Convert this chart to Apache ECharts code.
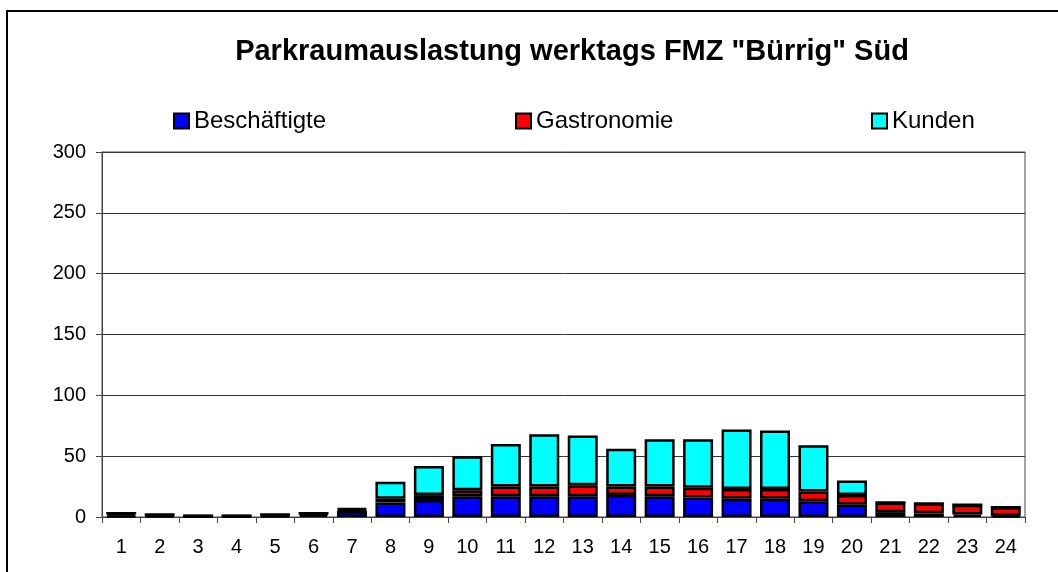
<!DOCTYPE html>
<html>
<head>
<meta charset="utf-8">
<script src="https://cdn.jsdelivr.net/npm/echarts@6/dist/echarts.min.js"></script>
<style>
  html, body { margin: 0; padding: 0; background: #fff; overflow: hidden; }
  #frame {
    position: absolute; left: 6px; top: 10px;
    width: 1200px; height: 800px;
    border: 2px solid #000;
  }
  #chart { position: absolute; left: 0; top: 0; width: 1058px; height: 572px; }
</style>
</head>
<body>
<div id="frame"></div>
<div id="chart"></div>
<script>
var hours = ['1', '2', '3', '4', '5', '6', '7', '8', '9', '10', '11', '12',
  '13', '14', '15', '16', '17', '18', '19', '20', '21', '22', '23', '24']
var beschaeftigte = [1, 1, 0.5, 0.5, 1, 2, 5, 12, 14, 17, 17, 17, 17, 18, 17, 16, 15, 15, 13, 10, 4, 3, 2, 1]
var gastronomie = [2, 1, 0.5, 0.5, 1, 1, 1, 3, 4, 5, 8, 8, 9, 7, 8, 8, 8, 8, 8, 8, 8, 8, 8, 7]
var kunden = [0, 0, 0, 0, 0, 0, 1, 14, 24, 28, 35, 43, 41, 31, 39, 40, 49, 48, 38, 12, 0, 0, 0, 0]

var font = '"Liberation Sans", Arial, sans-serif'

function legendAt (left, name) {
  return {
    left: left,
    top: 104,
    data: [name],
    icon: 'rect',
    itemWidth: 15,
    itemHeight: 15,
    itemGap: 0,
    textStyle: { fontSize: 24, color: '#000', fontFamily: font }
  }
}

function barSeries (name, data, color) {
  return {
    name: name,
    type: 'bar',
    stack: 'total',
    data: data,
    barWidth: 30,
    itemStyle: { color: color, borderColor: '#000', borderWidth: 2.5 },
    emphasis: { disabled: true }
  }
}

var chart = echarts.init(document.getElementById('chart'))
chart.setOption({
  animation: false,
  backgroundColor: 'transparent',
  title: {
    text: 'Parkraumauslastung werktags FMZ "Bürrig" Süd',
    left: 567,
    top: 32,
    textAlign: 'center',
    textStyle: { fontSize: 29, fontWeight: 'bold', color: '#000', fontFamily: font }
  },
  legend: [
    legendAt(168, 'Beschäftigte'),
    legendAt(510, 'Gastronomie'),
    legendAt(866, 'Kunden')
  ],
  grid: {
    left: 102, right: 33, top: 152, bottom: 55,
    show: true, borderColor: '#444', borderWidth: 1
  },
  xAxis: {
    type: 'category',
    data: hours,
    axisLine: { lineStyle: { color: '#444', width: 1 } },
    axisTick: { show: true, length: 6, lineStyle: { color: '#444' } },
    axisLabel: { fontSize: 20, color: '#000', fontFamily: font, margin: 20 }
  },
  yAxis: {
    type: 'value',
    min: 0,
    max: 300,
    interval: 50,
    axisLine: { show: true, lineStyle: { color: '#444', width: 1 } },
    axisTick: { show: true, length: 6, lineStyle: { color: '#444' } },
    axisLabel: { fontSize: 20, color: '#000', fontFamily: font, margin: 16 },
    splitLine: { lineStyle: { color: '#333', width: 1 } }
  },
  series: [
    barSeries('Beschäftigte', beschaeftigte, '#0000FF'),
    barSeries('Gastronomie', gastronomie, '#FF0000'),
    barSeries('Kunden', kunden, '#00FFFF')
  ]
})
</script>
</body>
</html>
